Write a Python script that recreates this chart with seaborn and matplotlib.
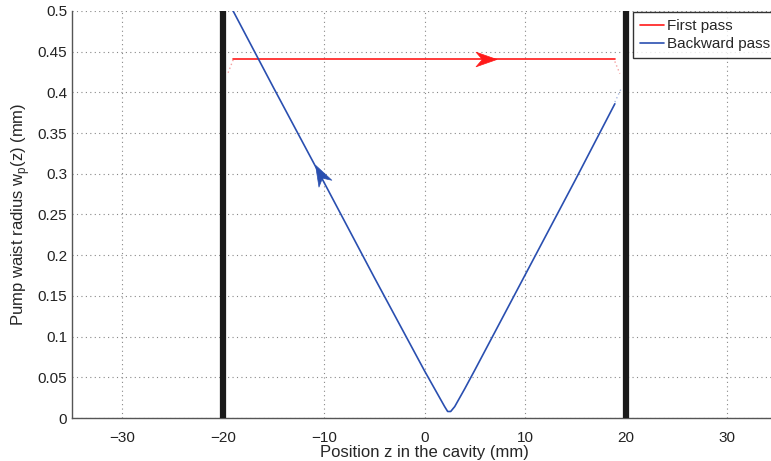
import numpy as np
import pandas as pd
import matplotlib
matplotlib.use("Agg")
import matplotlib.pyplot as plt
import seaborn as sns
from matplotlib.path import Path
from matplotlib.markers import MarkerStyle
from matplotlib.transforms import Affine2D

# mirror positions (mm)
mirrors_z = [-20, 20]

# first pass (red)
first_z = [-19.0, 18.9]
first_w = [0.441, 0.441]

# backward pass (blue)
back_z = [-19.0, -15.0, -10.0, -5.0, 0.0, 1.0, 1.5, 2.0, 2.3, 2.6, 3.0, 3.5, 4.0, 5.0, 10.0, 15.0, 18.9]
back_w = [0.500, 0.406, 0.290, 0.173, 0.058, 0.036, 0.025, 0.014, 0.008, 0.008, 0.014, 0.025,
          0.036, 0.059, 0.176, 0.293, 0.386]

# faint refraction stubs near the mirrors
stub_red_left_z = [-19.0, -19.6]
stub_red_left_w = [0.440, 0.421]
stub_red_right_z = [18.9, 19.4]
stub_red_right_w = [0.438, 0.423]
stub_blue_right_z = [18.9, 19.5]
stub_blue_right_w = [0.388, 0.404]

# arrowhead centres and the direction they point to
red_arrow_z = [6.1, 7.1]
blue_arrow_z = [-10.4, -11.4]

xticks = [-30, -20, -10, 0, 10, 20, 30]
yticks = [0, 0.05, 0.1, 0.15, 0.2, 0.25, 0.3, 0.35, 0.4, 0.45, 0.5]
ytick_labels = ["0", "0.05", "0.1", "0.15", "0.2", "0.25", "0.3", "0.35", "0.4", "0.45", "0.5"]

sns.set_style("white")
plt.rcParams["font.family"] = ["Liberation Sans", "DejaVu Sans"]
plt.rcParams["axes.unicode_minus"] = True

red = "#ff1a1a"
blue = "#2a4fb0"

fig = plt.figure(figsize=(7.71, 4.61), dpi=100)
ax = fig.add_axes([72 / 771, 1 - 418 / 461, 705 / 771, 407 / 461])

for z in mirrors_z:
    ax.axvline(z, color="#1a1a1a", lw=4.5, zorder=3)

df_first = pd.DataFrame({"z": first_z, "w": first_w})
df_back = pd.DataFrame({"z": back_z, "w": back_w})
sns.lineplot(data=df_first, x="z", y="w", color=red, lw=1.2, ax=ax, label="First pass", zorder=4)
sns.lineplot(data=df_back, x="z", y="w", color=blue, lw=1.2, ax=ax, label="Backward pass", zorder=4,
             sort=False)

for sz, sw, c in [(stub_red_left_z, stub_red_left_w, "#f5a0a0"),
                  (stub_red_right_z, stub_red_right_w, "#f5a0a0"),
                  (stub_blue_right_z, stub_blue_right_w, "#a8b8e0")]:
    ax.plot(sz, sw, color=c, lw=1, ls=(0, (1, 2)), zorder=4)

ax.set_xlim(-35, 35)
ax.set_ylim(0, 0.5)

# matlab-style notched arrowheads
head = Path([(1, 0), (-1, 0.7), (-0.4, 0), (-1, -0.7), (1, 0)],
            [Path.MOVETO, Path.LINETO, Path.LINETO, Path.LINETO, Path.CLOSEPOLY])


def arrowhead(zs, curve_z, curve_w, color):
    ws = np.interp(zs, curve_z, curve_w)
    p0, p1 = ax.transData.transform(np.column_stack([zs, ws]))
    ang = np.degrees(np.arctan2(p1[1] - p0[1], p1[0] - p0[0]))
    m = MarkerStyle(head, transform=Affine2D().rotate_deg(ang))
    ax.plot([zs[0]], [ws[0]], marker=m, ms=15, color=color, mec=color, mew=0.5, zorder=5)


arrowhead(red_arrow_z, first_z, first_w, red)
arrowhead(blue_arrow_z, back_z[:5], back_w[:5], blue)

ax.set_xticks(xticks)
ax.set_yticks(yticks)
ax.set_yticklabels(ytick_labels)
ax.tick_params(direction="in", length=4, labelsize=11, colors="#222222", width=0.8)
ax.tick_params(axis="x", pad=9)
ax.grid(True, ls=(0, (1, 3)), color="#888888", lw=0.8)
for s in ["top", "right"]:
    ax.spines[s].set_visible(False)
for s in ["left", "bottom"]:
    ax.spines[s].set_color("#555555")
    ax.spines[s].set_linewidth(1)

ax.set_xlabel("Position z in the cavity (mm)", fontsize=12, labelpad=0)
ax.set_ylabel("Pump waist radius w$_\\mathregular{p}$(z) (mm)", fontsize=12, labelpad=4)

leg = ax.legend(loc="upper left", bbox_to_anchor=(633 / 771, 1 - 12 / 461),
                bbox_transform=fig.transFigure,
                frameon=True, fancybox=False, fontsize=11, handlelength=1.6,
                borderpad=0.45, labelspacing=0.3, handletextpad=0.15, borderaxespad=0)
leg.get_frame().set_edgecolor("black")
leg.get_frame().set_linewidth(1)
leg.set_zorder(6)

fig.savefig("out.png", dpi=100)
